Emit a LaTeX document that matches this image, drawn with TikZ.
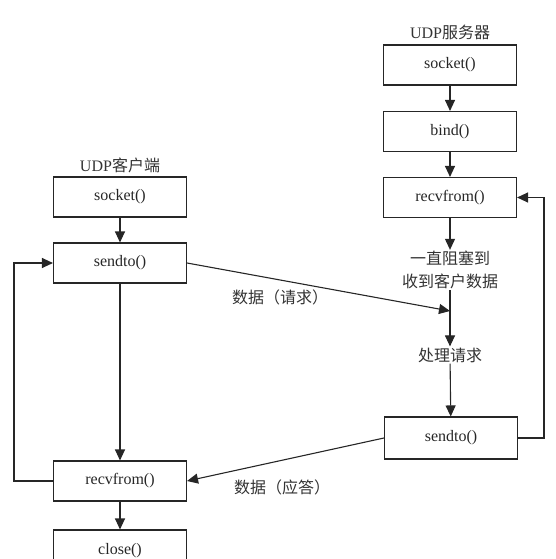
\documentclass[tikz,border=0pt]{standalone}
\usepackage{fontspec}
\setmainfont{Liberation Serif}
\newfontfamily\cjk{Noto Sans CJK SC}
\usetikzlibrary{arrows.meta}
\begin{document}
\begin{tikzpicture}[x=1pt,y=-1pt,
  box/.style={draw=black!85, line width=1.1pt, minimum width=133pt, minimum height=40pt, inner sep=0pt, font=\fontsize{16}{18}\selectfont, text=black!85},
  lbl/.style={font=\fontsize{16}{23}\selectfont, text=black!80, align=center, inner sep=1pt},
  arr/.style={draw=black!85, line width=1.1pt, -{Triangle[length=11pt,width=10pt]}},
  ln/.style={draw=black!85, line width=1.1pt}]
\useasboundingbox (0,0) rectangle (556,559);
% client
\node[lbl] (ct) at (120,165) {UDP{\cjk 客户端}};
\node[box] (cs) at (120,197) {socket()};
\node[box] (csend) at (120,263) {sendto()};
\node[box] (crecv) at (120,481) {recvfrom()};
\node[box, minimum height=42pt] (cclose) at (120,551) {close()};
% server
\node[lbl] (st) at (450,32) {UDP{\cjk 服务器}};
\node[box] (ss) at (450,65) {socket()};
\node[box] (sb) at (450,131.5) {bind()};
\node[box] (sr) at (450,197.5) {recvfrom()};
\node[lbl] (wait) at (450,270) {{\cjk 一直阻塞到}\\{\cjk 收到客户数据}};
\node[lbl] (proc) at (450,355) {\cjk 处理请求};
\node[box, minimum height=42pt] (ssend) at (451,438) {sendto()};
\node[lbl] (req) at (280,297) {\cjk 数据（请求）};
\node[lbl] (rep) at (282,487) {\cjk 数据（应答）};
\coordinate (hit) at (450,311);
\coordinate (cl) at (14,0);
\coordinate (sl) at (544,0);
% connectors
\draw[arr] (cs) -- (csend);
\draw[arr] (csend) -- (crecv);
\draw[arr] (crecv) -- (cclose);
\draw[arr] (ss) -- (sb);
\draw[arr] (sb) -- (sr);
\draw[arr] (sr) -- (wait);
\draw[arr] (wait) -- (proc);
\draw[arr] (proc) -- (ssend);
\draw[arr] (csend.east) -- (hit);
\draw[arr] (ssend.west) -- (crecv.east);
\draw[arr] (crecv.west) -- (cl |- crecv.west) -- (cl |- csend.west) -- (csend.west);
\draw[arr] (ssend.east) -- (sl |- ssend.east) -- (sl |- sr.east) -- (sr.east);
\end{tikzpicture}
\end{document}
